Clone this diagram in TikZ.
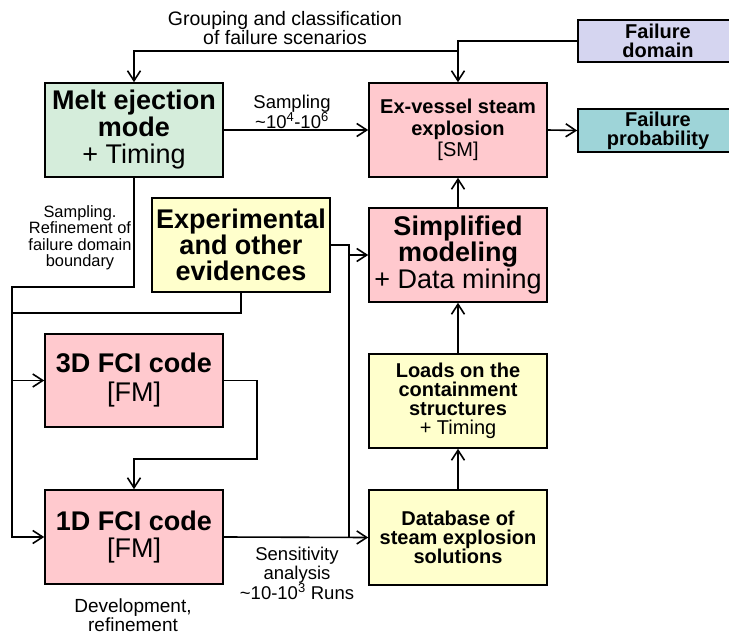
\documentclass[tikz,border=0pt]{standalone}
\usepackage{fontspec}
\setmainfont{Liberation Sans}
\usetikzlibrary{arrows.meta}

\definecolor{mintfill}{HTML}{D5EDDB}
\definecolor{pinkfill}{HTML}{FFC9CE}
\definecolor{yellowfill}{HTML}{FFFFCC}
\definecolor{lavfill}{HTML}{D5D5F0}
\definecolor{tealfill}{HTML}{9ED4D8}

\begin{document}
\begin{tikzpicture}[x=1pt,y=-1pt,
  block/.style={draw=black, line width=1.6pt, align=center, inner sep=0pt,
              minimum width=178pt, minimum height=94pt},
  tag/.style={draw=black, line width=1.6pt, align=center, inner sep=0pt,
              minimum width=160pt},
  link/.style={line width=1.6pt, draw=black},
  arr/.style={link, -{Straight Barb[length=10pt,width=13pt,line width=1.6pt]}},
  note/.style={align=center, inner sep=0pt}]

\useasboundingbox (0,0) rectangle (729,634);

% main blocks
\node[block, fill=mintfill, font=\fontsize{27}{27}\selectfont] (melt) at (134,130)
  {\bfseries Melt ejection\\ \bfseries mode\\ + Timing};
\node[block, fill=pinkfill, font=\fontsize{20}{21.5}\selectfont] (exv) at (458,130)
  {\bfseries Ex-vessel steam\\ \bfseries explosion\\ \relax[SM]};
\node[block, fill=yellowfill, font=\fontsize{27}{26}\selectfont\bfseries] (exp) at (241,245)
  {Experimental\\ and other\\ evidences};
\node[block, fill=pinkfill, font=\fontsize{27}{26.5}\selectfont] (simp) at (458,255)
  {\bfseries Simplified\\ \bfseries modeling\\ + Data mining};
\node[block, fill=yellowfill, font=\fontsize{20}{19}\selectfont] (loads) at (458,401)
  {\bfseries Loads on the\\ \bfseries containment\\ \bfseries structures\\ + Timing};
\node[block, fill=yellowfill, minimum height=95pt, font=\fontsize{20}{19}\selectfont\bfseries] (db) at (458,537.5)
  {Database of\\ steam explosion\\ solutions};
\node[block, fill=pinkfill, minimum height=93pt, font=\fontsize{27}{29}\selectfont] (fci3) at (134,380.5)
  {\bfseries 3D FCI code\\ \relax[FM]};
\node[block, fill=pinkfill, font=\fontsize{27}{27.5}\selectfont] (fci1) at (134,537)
  {\bfseries 1D FCI code\\ \relax[FM]};

% result tags at the right edge
\node[tag, fill=lavfill, minimum height=42pt, font=\fontsize{20}{19}\selectfont\bfseries] (fdom) at (658,41)
  {Failure\\ domain};
\node[tag, fill=tealfill, minimum height=43pt, font=\fontsize{20}{19}\selectfont\bfseries] (fprob) at (658,130.5)
  {Failure\\ probability};

% junction points of the routed lines
\coordinate (grp) at (458,51);
\coordinate (lbus) at (12,287);
\coordinate (lexp) at (12,313);
\coordinate (rthree) at (257,459);
\coordinate (rbus) at (349,245);

% connectors
\draw[arr] (fdom.west) -| (exv.north);
\draw[arr] (grp) -| (melt.north);
\draw[arr] (melt.east) -- (exv.west);
\draw[arr] (exv.east) -- (fprob.west);
\draw[arr] (simp.north) -- (exv.south);
\draw[arr] (loads.north) -- (simp.south);
\draw[arr] (db.north) -- (loads.south);
\draw[arr] (melt.south) |- (lbus) |- (fci1.west);
\draw[arr] (lbus |- fci3.west) -- (fci3.west);
\draw[link] (exp.south) |- (lexp);
\draw[arr] (fci3.east) -| (rthree) -| (fci1.north);
\draw[arr] (fci1.east) -- (db.west);
\draw[link] (exp.east) -- (rbus) -- (rbus |- db.west);
\draw[arr] (rbus |- simp.west) -- (simp.west);

% labels
\node[note, font=\fontsize{19.5}{17.5}\selectfont] (lgroup) at (285,28)
  {Grouping and classification\\ of failure scenarios};
\node[note, font=\fontsize{18.5}{17.5}\selectfont] (lsamp) at (292,111.5)
  {Sampling\\ \textasciitilde10\textsuperscript{4}-10\textsuperscript{6}};
\node[note, font=\fontsize{16.4}{16.5}\selectfont] (lrefine) at (80,238)
  {Sampling.\\ Refinement of\\ failure domain\\ boundary};
\node[note, font=\fontsize{18.5}{19.5}\selectfont] (lsens) at (297,573)
  {Sensitivity\\ analysis\\ \textasciitilde10-10\textsuperscript{3} Runs};
\node[note, font=\fontsize{19}{16.5}\selectfont] (ldev) at (133,615)
  {Development,\\ refinement};

\end{tikzpicture}
\end{document}
